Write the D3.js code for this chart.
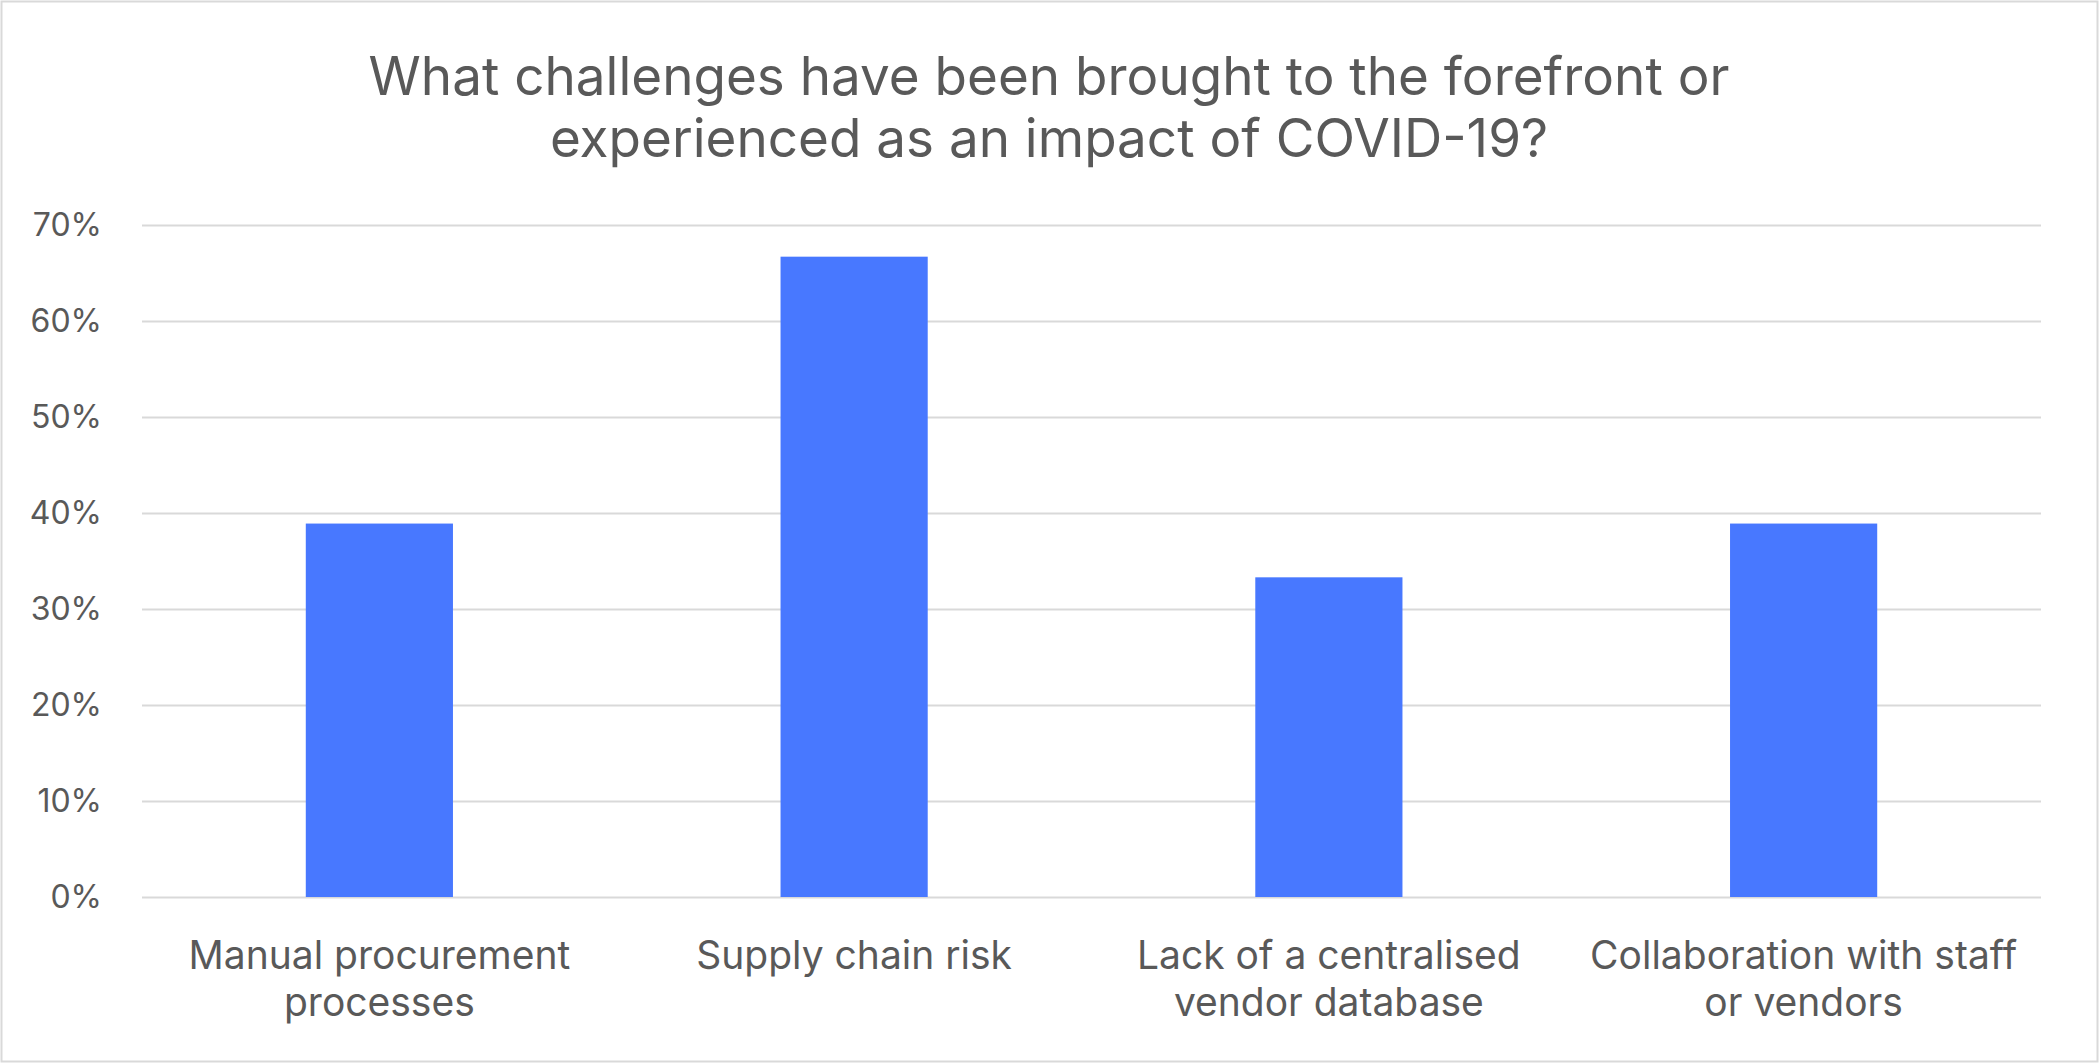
<!DOCTYPE html>
<html><head><meta charset="utf-8">
<script src="https://cdn.jsdelivr.net/npm/d3@7"></script>
<style>body{margin:0;background:#fff}svg{display:block}text{font-family:Inter,"Open Sans",sans-serif;fill:#595959}</style>
</head><body><svg id="c" width="2099" height="1063"></svg>
<script>
const categories = [["Manual procurement","processes"],["Supply chain risk"],["Lack of a centralised","vendor database"],["Collaboration with staff","or vendors"]];
const values = [0.389, 0.667, 0.333, 0.389];
const yTicks = [0,0.1,0.2,0.3,0.4,0.5,0.6,0.7];
const titleLines = ["What challenges have been brought to the forefront or","experienced as an impact of COVID-19?"];

const svg = d3.select("#c");
const W=2099,H=1063;
const m={left:142,right:2041,top:225,bottom:897};
svg.append("rect").attr("x",1.5).attr("y",1.5).attr("width",W-3).attr("height",H-3).attr("fill","#fff").attr("stroke","#d9d9d9").attr("stroke-width",2);

const x = d3.scaleBand().domain(d3.range(categories.length)).range([m.left,m.right]).paddingInner(0.69).paddingOuter(0.345);
const y = d3.scaleLinear().domain([0,0.7]).range([m.bottom,m.top]);

const yAxis = d3.axisLeft(y).tickValues(yTicks).tickFormat(d3.format(".0%")).tickSize(-(m.right-m.left)).tickPadding(40);
const gy = svg.append("g").attr("transform",`translate(${m.left},0)`).call(yAxis);
gy.select(".domain").remove();
gy.selectAll(".tick line").attr("stroke","#d9d9d9").attr("stroke-width",2);
gy.selectAll(".tick text").attr("font-size",32).attr("fill","#595959").style("font-family","Inter,sans-serif");

svg.append("g").selectAll("rect").data(values).join("rect")
  .attr("x",(d,i)=>x(i)).attr("width",x.bandwidth())
  .attr("y",d=>y(d)).attr("height",d=>y(0)-y(d)).attr("fill","#4878FF");

const gx = svg.append("g");
categories.forEach((lines,i)=>{
  const t = gx.append("text").attr("text-anchor","middle").attr("font-size",39).attr("x",x(i)+x.bandwidth()/2);
  lines.forEach((l,j)=>t.append("tspan").attr("x",x(i)+x.bandwidth()/2).attr("y",969+j*47).text(l));
});

const tt = svg.append("text").attr("text-anchor","middle").attr("font-size",53);
titleLines.forEach((l,j)=>tt.append("tspan").attr("x",1049).attr("y",95+j*62).text(l));
</script></body></html>
